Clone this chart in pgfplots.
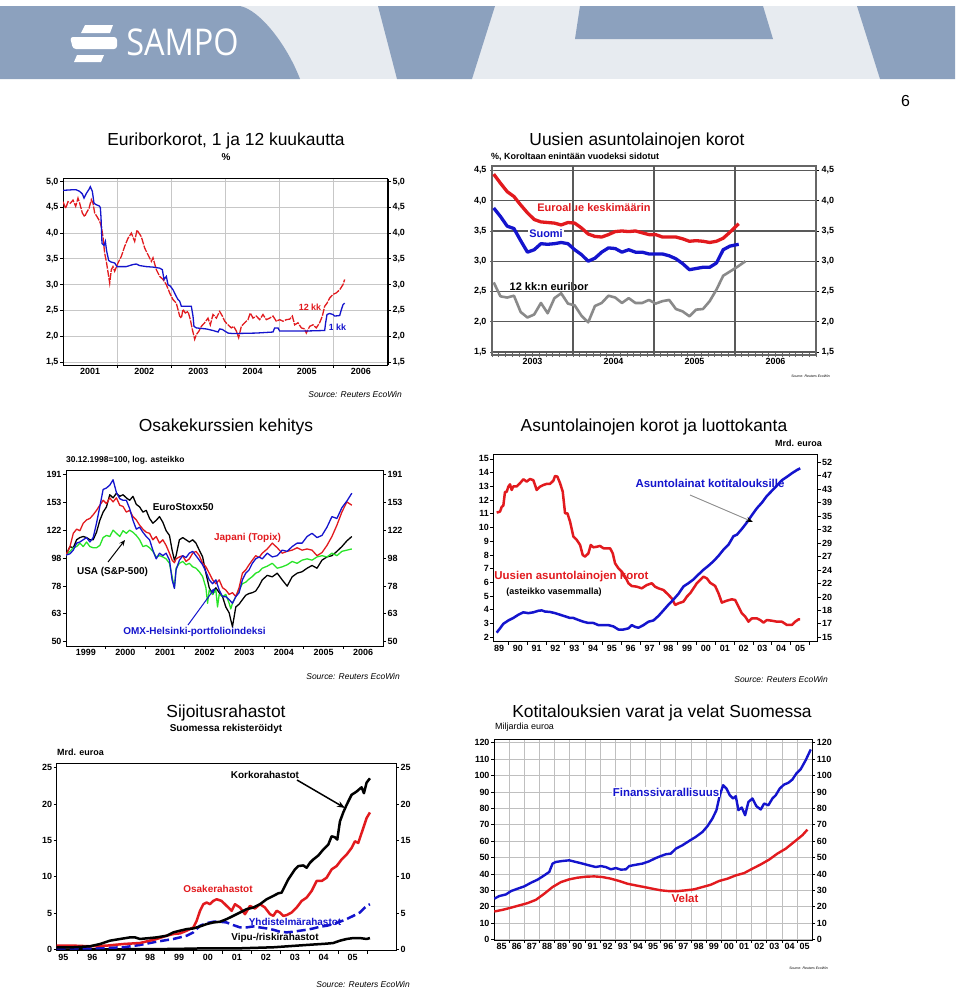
\documentclass[border=0pt]{standalone}
\usepackage{fontspec}
\setmainfont{Liberation Sans}
\newfontfamily\logofont{Open Sans}
\usepackage{pgfplots}
\pgfplotsset{compat=1.18}
\usetikzlibrary{arrows.meta}

\definecolor{cred}{RGB}{226,26,30}
\definecolor{cblue}{RGB}{20,20,205}
\definecolor{cgreen}{RGB}{40,228,40}
\definecolor{cgray}{RGB}{138,138,138}
\definecolor{bdark}{RGB}{140,161,190}
\definecolor{blight}{RGB}{231,235,240}

\newcommand{\tl}{\bfseries\fontsize{9}{10}\selectfont}
\newcommand{\ttl}{\fontsize{17.5}{19}\selectfont}
\newcommand{\lb}[1]{\bfseries\fontsize{#1}{#1}\selectfont}
\newcommand{\src}{\itshape\fontsize{8.5}{9}\selectfont}

\pgfplotsset{
  base/.style={scale only axis, anchor=north west,
    axis line style={line width=1bp},
    tick label style={font=\tl},
    /pgf/number format/assume math mode=true,
    major tick length=0pt, minor tick length=3bp, tick align=outside,
    every minor tick/.append style={black, line width=0.8bp},
    tick pos=left},
  onedec/.style={/pgf/number format/fixed, /pgf/number format/fixed zerofill,
    /pgf/number format/precision=1, /pgf/number format/use comma},
  twin/.style={base, hide x axis, axis y line*=right, ytick pos=right, yticklabel pos=right}
}

\begin{document}
\begin{tikzpicture}
\useasboundingbox (0,0) rectangle (960bp,-991bp);
\fill[white] (0,0) rectangle (960bp,-991bp);

\begin{scope}[x=1bp,y=-1bp]
% banner
\fill[blight] (0,6) rectangle (955,79);
\fill[bdark] (0,6) -- (240,6) .. controls (260,10) and (287,45) .. (300,79) -- (0,79) -- cycle;
\fill[bdark] (378,6) -- (495,6) -- (472,79) -- (397,79) -- cycle;
\fill[bdark] (580,6) -- (763,6) -- (773,39) -- (575,39) -- cycle;
\fill[bdark] (857,6) -- (955,6) -- (955,79) -- (880,79) -- cycle;
\fill[white] (85,25) -- (113,25) -- (110,33) -- (81,33) -- cycle;
\fill[white, rounded corners=3bp] (70,37) -- (117,37) -- (117,49) -- (73,49) -- cycle;
\fill[white] (77,55) -- (104,55) -- (101,62) -- (74,62) -- cycle;
\node[white, xscale=0.88, inner sep=0] at (182.5,42) {\logofont\fontsize{37}{37}\selectfont SAMPO};
\node at (905.5,101) {\fontsize{16}{16}\selectfont 6};

% titles
\node at (226,141) {\ttl Euriborkorot, 1 ja 12 kuukautta};
\node at (226,157) {\lb{10}\%};
\node at (637,141) {\ttl Uusien asuntolainojen korot};
\node[anchor=west, inner sep=0] at (491,157) {\lb{9}\%, Koroltaan enintään vuodeksi sidotut};
\node at (226,427) {\ttl Osakekurssien kehitys};
\node[anchor=west, inner sep=0] at (66,460) {\lb{8.5}30.12.1998=100, log. asteikko};
\node at (654,427) {\ttl Asuntolainojen korot ja luottokanta};
\node[anchor=east, inner sep=0] at (822,443) {\lb{9}Mrd. euroa};
\node at (226,713) {\ttl Sijoitusrahastot};
\node at (226,729) {\lb{10}Suomessa rekisteröidyt};
\node[anchor=west, inner sep=0] at (57,752) {\lb{9}Mrd. euroa};
\node at (662,713) {\ttl Kotitalouksien varat ja velat Suomessa};
\node[anchor=west, inner sep=0] at (495,727) {\fontsize{9}{9}\selectfont Miljardia euroa};

% sources
\node[anchor=east, inner sep=0] at (402,394) {\src Source: Reuters EcoWin};
\node[anchor=east, inner sep=0] at (400,676) {\src Source: Reuters EcoWin};
\node[anchor=east, inner sep=0] at (828,679) {\src Source: Reuters EcoWin};
\node[anchor=east, inner sep=0] at (410,984) {\src Source: Reuters EcoWin};
\node[anchor=east, inner sep=0] at (830,376) {\itshape\fontsize{3.5}{4}\selectfont Source: Reuters EcoWin};
\node[anchor=east, inner sep=0] at (828,968) {\itshape\fontsize{3.5}{4}\selectfont Source: Reuters EcoWin};

% in-chart labels (under the lines)
\node[cred] at (310,307) {\lb{9}12 kk};
\node[cblue] at (337.5,327) {\lb{9}1 kk};
\node[cred] at (594,208) {\lb{11}Euroalue keskimäärin};
\node at (549,287) {\lb{11}12 kk:n euribor};
\node at (183.3,506.7) {\lb{10}EuroStoxx50};
\node[cred] at (247.5,538) {\lb{10}Japani (Topix)};
\node at (112.5,571.7) {\lb{10}USA (S\&P-500)};
\node[cblue] at (194.5,631.7) {\lb{10}OMX-Helsinki-portfolioindeksi};
\node[cblue] at (710,483) {\lb{11.5}Asuntolainat kotitalouksille};
\node[cred] at (571.5,577) {\lb{11.5}Uusien asuntolainojen korot};
\node at (554,592) {\lb{9}(asteikko vasemmalla)};
\node at (265,775) {\lb{10}Korkorahastot};
\node[cred] at (218,889) {\lb{10}Osakerahastot};
\node[cblue] at (295,922) {\lb{10}Yhdistelmärahastot};
\node at (275,938) {\lb{10}Vipu-/riskirahastot};
\end{scope}

%================ P1 Euribor
\begin{axis}[base, at={(63bp,-178.5bp)}, width=325bp, height=186.5bp,
  xmin=0, xmax=6, ymin=1.44, ymax=5.06,
  xtick={0.5,1.5,2.5,3.5,4.5,5.5}, xticklabels={2001,2002,2003,2004,2005,2006},
  minor xtick={1,2,3,4,5}, xminorgrids=true,
  ytick={1.5,2,2.5,3,3.5,4,4.5,5}, minor ytick={1.5,2,2.5,3,3.5,4,4.5,5},
  ymajorgrids=true, grid style={black!22, line width=0.8bp},
  yticklabel style={xshift=-1bp, onedec}]
\addplot[cred, line width=1.3bp, dash pattern=on 7bp off 1.2bp] coordinates {
(0.000,4.61)(0.049,4.48)(0.092,4.61)(0.135,4.58)(0.185,4.64)(0.234,4.52)(0.277,4.68)(0.308,4.58)
(0.357,4.39)(0.400,4.32)(0.431,4.39)(0.480,4.48)(0.523,4.65)(0.554,4.58)(0.585,4.39)(0.628,4.32)
(0.677,4.23)(0.708,4.13)(0.738,3.93)(0.769,3.61)(0.800,3.45)(0.843,3.16)(0.862,3.03)(0.892,3.29)
(0.923,3.35)(0.954,3.26)(1.015,3.42)(1.077,3.55)(1.138,3.74)(1.200,3.90)(1.262,4.00)(1.323,3.84)
(1.366,4.06)(1.403,4.00)(1.446,3.93)(1.508,3.71)(1.569,3.58)(1.631,3.45)(1.662,3.52)(1.723,3.29)
(1.785,3.16)(1.846,3.10)(1.908,3.00)(1.969,2.84)(2.031,2.71)(2.092,2.64)(2.154,2.39)(2.185,2.35)
(2.215,2.52)(2.258,2.45)(2.308,2.48)(2.351,2.32)(2.388,2.13)(2.431,1.94)(2.462,2.03)(2.511,2.10)
(2.554,2.19)(2.615,2.26)(2.677,2.35)(2.720,2.22)(2.769,2.42)(2.831,2.35)(2.892,2.48)(2.942,2.39)
(2.985,2.29)(3.046,2.22)(3.108,2.16)(3.151,2.19)(3.200,2.10)(3.243,1.97)(3.292,2.19)(3.354,2.26)
(3.415,2.32)(3.458,2.45)(3.508,2.35)(3.569,2.39)(3.631,2.32)(3.692,2.42)(3.754,2.32)(3.815,2.35)
(3.877,2.39)(3.938,2.29)(4.000,2.32)(4.062,2.29)(4.123,2.32)(4.185,2.33)(4.234,2.39)(4.277,2.22)
(4.338,2.26)(4.400,2.16)(4.462,2.14)(4.492,2.06)(4.554,2.19)(4.615,2.22)(4.677,2.16)(4.738,2.26)
(4.788,2.39)(4.831,2.58)(4.874,2.64)(4.923,2.74)(4.985,2.81)(5.046,2.84)(5.108,2.90)(5.169,3.00)
(5.200,3.10)};
\addplot[cblue, line width=1.3bp] coordinates {
(0.000,4.83)(0.154,4.84)(0.246,4.84)(0.308,4.81)(0.357,4.76)(0.388,4.68)(0.431,4.77)(0.480,4.85)
(0.505,4.90)(0.542,4.81)(0.572,4.58)(0.615,4.55)(0.665,4.53)(0.689,4.50)(0.702,4.30)(0.720,3.80)
(0.757,3.76)(0.782,3.84)(0.806,3.65)(0.843,3.47)(0.886,3.44)(0.954,3.42)(0.997,3.35)(1.169,3.35)
(1.231,3.37)(1.292,3.39)(1.354,3.40)(1.415,3.37)(1.538,3.35)(1.662,3.34)(1.785,3.32)(1.834,3.29)
(1.865,3.10)(1.908,3.16)(1.938,3.00)(1.982,2.97)(2.031,2.90)(2.092,2.77)(2.123,2.71)(2.154,2.68)
(2.185,2.58)(2.369,2.58)(2.400,2.39)(2.418,2.19)(2.462,2.16)(2.554,2.15)(2.646,2.14)(2.769,2.11)
(2.862,2.08)(2.892,2.14)(2.942,2.13)(2.985,2.10)(3.046,2.06)(3.138,2.05)(3.569,2.06)(3.877,2.08)
(3.908,2.16)(3.969,2.16)(4.000,2.10)(4.492,2.10)(4.831,2.11)(4.849,2.26)(4.874,2.42)(4.923,2.44)
(4.985,2.42)(5.015,2.39)(5.108,2.40)(5.138,2.51)(5.169,2.61)(5.200,2.64)};
\end{axis}
\begin{axis}[twin, at={(63bp,-178.5bp)}, width=325bp, height=186.5bp,
  xmin=0, xmax=6, ymin=1.44, ymax=5.06,
  ytick={1.5,2,2.5,3,3.5,4,4.5,5}, minor ytick={1.5,2,2.5,3,3.5,4,4.5,5},
  yticklabel style={xshift=1bp, onedec}]
\end{axis}

%================ P2 Uusien asuntolainojen korot
\begin{axis}[base, at={(492bp,-166bp)}, width=324bp, height=189bp,
  axis line style={black!60, line width=1.2bp},
  xmin=-0.25, xmax=47.75, ymin=1.45, ymax=4.574,
  xtick={5.75,17.75,29.75,41.75}, xticklabels={2003,2004,2005,2006},
  minor xtick={-0.25,0.75,...,47.75}, tick align=center, minor tick length=4bp,
  every minor tick/.append style={black!60, line width=0.8bp},
  extra x ticks={11.75,23.75,35.75}, extra x tick labels={},
  extra x tick style={grid=major},
  ytick={1.5,2,2.5,3,3.5,4,4.5}, minor ytick={1.5,2,2.5,3,3.5,4,4.5},
  ymajorgrids=true, major grid style={black!65, line width=1.1bp},
  yticklabel style={xshift=-2bp, onedec}]
\addplot[cgray, line width=2.6bp, line join=round] coordinates {
(0,2.65)(1,2.42)(2,2.40)(3,2.43)(4,2.16)(5,2.07)(6,2.12)(7,2.31)(8,2.14)(9,2.39)(10,2.47)(11,2.30)
(12,2.27)(13,2.10)(14,1.99)(15,2.26)(16,2.31)(17,2.43)(18,2.40)(19,2.31)(20,2.39)(21,2.31)(22,2.31)(23,2.36)
(24,2.30)(25,2.34)(26,2.36)(27,2.21)(28,2.17)(29,2.09)(30,2.20)(31,2.21)(32,2.34)(33,2.53)(34,2.76)(35,2.83)
(36,2.90)(37.3,3.00)};
\addplot[cred, line width=3.3bp, line join=round] coordinates {
(0,4.44)(1,4.29)(2,4.15)(3,4.07)(4,3.93)(5,3.80)(6,3.69)(7,3.65)(8,3.64)(9,3.63)(10,3.60)(11,3.64)
(12,3.63)(13,3.55)(14,3.45)(15,3.41)(16,3.40)(17,3.44)(18,3.49)(19,3.50)(20,3.49)(21,3.50)(22,3.47)(23,3.44)
(24,3.44)(25,3.40)(26,3.40)(27,3.40)(28,3.37)(29,3.33)(30,3.34)(31,3.33)(32,3.31)(33,3.33)(34,3.38)(35,3.48)
(36.3,3.62)};
\addplot[cblue, line width=3.3bp, line join=round] coordinates {
(0,3.88)(1,3.74)(2,3.58)(3,3.54)(4,3.34)(5,3.15)(6,3.19)(7,3.29)(8,3.28)(9,3.29)(10,3.31)(11,3.29)
(12,3.19)(13,3.11)(14,3.00)(15,3.05)(16,3.15)(17,3.22)(18,3.21)(19,3.15)(20,3.19)(21,3.15)(22,3.15)(23,3.12)
(24,3.12)(25,3.12)(26,3.09)(27,3.04)(28,2.96)(29,2.86)(30,2.88)(31,2.90)(32,2.90)(33,2.97)(34,3.19)(35,3.25)
(36.3,3.28)};
\end{axis}
\begin{axis}[twin, at={(492bp,-166bp)}, width=324bp, height=189bp,
  axis line style={black!60, line width=1.2bp},
  xmin=-0.25, xmax=47.75, ymin=1.45, ymax=4.574,
  ytick={1.5,2,2.5,3,3.5,4,4.5}, minor ytick={1.5,2,2.5,3,3.5,4,4.5},
  yticklabel style={xshift=2bp, onedec}]
\end{axis}

%================ P3 Osakekurssien kehitys
\begin{axis}[base, at={(66bp,-470bp)}, width=317bp, height=176bp,
  ymode=log, xmin=0, xmax=8, ymin=48.3, ymax=197.5,
  xtick={0.5,1.5,2.5,3.5,4.5,5.5,6.5,7.5},
  xticklabels={1999,2000,2001,2002,2003,2004,2005,2006},
  minor xtick={1,2,3,4,5,6,7},
  ytick={50,62.5,78.125,97.65625,122.0703,152.5879,190.7349},
  yticklabels={50,63,78,98,122,153,191},
  minor ytick={50,62.5,78.125,97.65625,122.0703,152.5879,190.7349},
  yticklabel style={xshift=-1bp},
  every axis plot/.append style={line width=1.3bp, line join=round}]
\addplot[black] coordinates {
(0.000,100)(0.100,107)(0.184,106)(0.268,113)(0.351,115)(0.435,116)(0.519,115)(0.603,113)(0.686,113)
(0.770,120)(0.854,132)(0.937,141)(1.021,147)(1.105,162)(1.188,158)(1.272,164)(1.356,160)(1.439,162)
(1.523,158)(1.607,155)(1.690,160)(1.774,150)(1.858,147)(1.941,141)(2.025,143)(2.109,134)(2.192,129)
(2.276,132)(2.360,136)(2.444,130)(2.527,121.5)(2.611,117)(2.678,104)(2.736,96)(2.778,99.5)(2.862,113)
(2.946,115)(3.029,113)(3.113,111)(3.197,113)(3.280,110)(3.364,104)(3.448,98.5)(3.531,86.5)(3.615,77)
(3.699,73)(3.782,77)(3.866,74)(3.950,71.7)(4.033,66)(4.117,63)(4.159,59.5)(4.201,56.4)(4.285,66)
(4.368,67.5)(4.452,70)(4.536,72.5)(4.619,73.5)(4.703,74)(4.787,75)(4.870,78)(4.954,82)(5.079,85)
(5.205,84)(5.331,86.5)(5.456,82)(5.582,78)(5.707,84)(5.833,86.5)(5.958,87.5)(6.084,90)(6.209,92)
(6.335,90)(6.460,96)(6.586,98.5)(6.711,99.5)(6.837,103)(6.962,107)(7.088,112)(7.213,116)};
\addplot[cgreen] coordinates {
(0.000,100)(0.100,103)(0.184,106)(0.268,107)(0.351,110)(0.435,107)(0.519,111)(0.603,107)(0.686,106)
(0.770,106)(0.854,108)(0.937,115)(1.021,117)(1.105,116)(1.188,122)(1.272,119)(1.356,116)(1.439,121.5)
(1.523,119)(1.607,122)(1.690,120)(1.774,117)(1.858,113)(1.941,107)(2.025,108)(2.109,106)(2.192,103)
(2.276,98.5)(2.360,99.5)(2.444,98.5)(2.527,97)(2.611,93.6)(2.678,84.2)(2.736,77)(2.778,90)(2.862,93.6)
(2.946,95)(3.029,92.5)(3.113,93.6)(3.197,91)(3.280,90)(3.364,87.5)(3.448,84.2)(3.531,77)(3.573,68)
(3.615,75.6)(3.699,73)(3.782,75.6)(3.824,66)(3.866,73)(3.950,71.7)(4.033,73)(4.117,68)(4.159,65)
(4.201,68)(4.285,71.7)(4.368,75.6)(4.452,79.5)(4.536,80.5)(4.619,82.5)(4.703,84.2)(4.787,86.5)
(4.870,87.5)(4.954,90)(5.079,91.5)(5.205,93.6)(5.331,90)(5.456,91)(5.582,92.5)(5.707,95)(5.833,93.6)
(5.958,96)(6.084,97)(6.209,96)(6.335,98.5)(6.460,99.5)(6.586,98.5)(6.711,101.5)(6.837,99.5)(6.962,103)
(7.088,104)(7.213,105)};
\addplot[cred] coordinates {
(0.000,100)(0.100,107)(0.184,119)(0.268,123)(0.351,121.5)(0.435,129)(0.519,132.5)(0.603,134)(0.686,138)
(0.770,143)(0.854,149)(0.937,155)(1.021,151)(1.105,158)(1.188,153)(1.272,158)(1.356,149)(1.439,147.5)
(1.523,141)(1.607,143)(1.690,136)(1.774,132.5)(1.858,127)(1.941,123)(2.025,120)(2.109,119)(2.192,113)
(2.276,116)(2.360,110)(2.444,113)(2.527,108)(2.611,101.5)(2.678,96)(2.736,94)(2.778,97)(2.862,98.5)
(2.946,99.5)(3.029,95)(3.113,97)(3.197,101.5)(3.280,103)(3.364,99.5)(3.448,93.6)(3.531,91)(3.615,86.5)
(3.699,82)(3.782,79.5)(3.866,82)(3.950,77)(4.033,75.6)(4.117,73)(4.159,73.5)(4.201,74)(4.285,71.7)
(4.368,77)(4.452,86.5)(4.536,88.8)(4.619,92.5)(4.703,96)(4.787,99.5)(4.870,98)(4.954,101.5)(5.079,105)
(5.205,110)(5.331,106)(5.456,101.5)(5.582,103)(5.707,104)(5.833,106)(5.958,104)(6.084,105)(6.209,104)
(6.335,99.5)(6.460,102)(6.586,108)(6.711,116)(6.837,127)(6.962,141)(7.088,153)(7.213,149)};
\addplot[cblue] coordinates {
(0.000,100)(0.100,101)(0.184,104)(0.268,110)(0.351,111)(0.435,113)(0.519,115)(0.603,111)(0.686,115)
(0.770,129)(0.854,147.5)(0.937,169)(1.021,171)(1.105,175)(1.188,182.6)(1.272,165)(1.356,157)(1.439,155)
(1.523,155)(1.607,145)(1.690,132)(1.774,123)(1.858,125)(1.941,120)(2.025,116)(2.109,113)(2.192,104)
(2.276,97)(2.360,101.5)(2.444,99.5)(2.527,101.5)(2.611,96)(2.678,82)(2.736,76.6)(2.778,88.8)(2.862,96)
(2.946,99.5)(3.029,98)(3.113,101.5)(3.197,103)(3.280,99.5)(3.364,96)(3.448,92.5)(3.531,87.5)(3.615,82)
(3.699,79.5)(3.782,82)(3.866,75.6)(3.950,71.7)(4.033,71.7)(4.117,70)(4.159,69)(4.201,68)(4.285,71.7)
(4.368,74)(4.452,82)(4.536,86.5)(4.619,88.8)(4.703,93.6)(4.787,97)(4.870,98.5)(4.954,97)(5.079,101.5)
(5.205,98.5)(5.331,99.5)(5.456,104)(5.582,103)(5.707,107)(5.833,110)(5.958,110)(6.084,116)(6.209,119)
(6.335,115)(6.460,117)(6.586,125)(6.711,136)(6.837,134)(6.962,146)(7.088,154)(7.213,164)};
\end{axis}
\begin{axis}[twin, at={(66bp,-470bp)}, width=317bp, height=176bp,
  ymode=log, xmin=0, xmax=8, ymin=48.3, ymax=197.5,
  ytick={50,62.5,78.125,97.65625,122.0703,152.5879,190.7349},
  yticklabels={50,63,78,98,122,153,191},
  minor ytick={50,62.5,78.125,97.65625,122.0703,152.5879,190.7349},
  yticklabel style={xshift=1bp}]
\end{axis}

%================ P4 Asuntolainojen korot ja luottokanta
\begin{axis}[base, at={(493.3bp,-454bp)}, width=324.4bp, height=187.7bp,
  xmin=-0.303, xmax=16.94, ymin=1.68, ymax=15.36,
  xtick={0,...,16}, xticklabels={89,90,91,92,93,94,95,96,97,98,99,00,01,02,03,04,05},
  minor xtick={0.5,1.5,...,16.5},
  ytick={2,...,15}, minor ytick={2,...,15},
  yticklabel style={xshift=-1bp}]
\addplot[cred, line width=2.5bp, line join=round] coordinates {
(-0.124,11.09)(0.053,11.16)(0.142,11.5)(0.230,11.6)(0.319,12.6)(0.408,12.6)(0.496,12.98)(0.585,13.15)
(0.674,12.74)(0.762,13.0)(0.940,13.0)(1.117,13.23)(1.294,13.52)(1.472,13.35)(1.649,13.54)(1.826,13.45)
(2.004,12.74)(2.181,12.98)(2.358,13.1)(2.535,13.18)(2.713,13.18)(2.890,13.42)(2.979,13.76)(3.103,13.71)
(3.245,13.23)(3.387,12.62)(3.511,11.04)(3.635,11.04)(3.777,10.43)(3.954,9.34)(4.131,9.1)(4.309,8.73)
(4.450,8.0)(4.574,7.88)(4.752,8.12)(4.876,8.73)(5.018,8.56)(5.195,8.6)(5.372,8.66)(5.550,8.49)
(5.727,8.49)(5.904,8.49)(6.046,8.12)(6.170,7.39)(6.348,7.03)(6.525,6.79)(6.702,6.42)(6.879,5.94)
(7.057,5.74)(7.323,5.69)(7.589,5.57)(7.855,5.81)(8.121,5.94)(8.298,5.69)(8.475,5.57)(8.741,5.45)
(9.007,5.09)(9.184,4.84)(9.362,4.36)(9.539,4.48)(9.805,4.6)(9.982,4.96)(10.160,5.21)(10.337,5.57)
(10.514,5.94)(10.691,6.18)(10.869,6.42)(11.046,6.3)(11.223,5.98)(11.489,5.74)(11.667,5.21)(11.844,4.53)
(12.110,4.67)(12.376,4.77)(12.553,4.72)(12.730,4.23)(12.908,3.75)(13.085,3.51)(13.262,3.14)(13.440,3.38)
(13.706,3.38)(13.883,3.26)(14.060,3.07)(14.238,3.26)(14.504,3.21)(14.770,3.14)(15.035,3.14)(15.301,2.9)
(15.567,2.9)(15.745,3.14)(15.922,3.31)(16.011,3.31)};
\end{axis}
\begin{axis}[twin, at={(493.3bp,-454bp)}, width=324.4bp, height=187.7bp,
  ymode=log, xmin=-0.303, xmax=16.94, ymin=14.54, ymax=54.9,
  ytick={15,16.5,18.15,19.965,21.96,24.16,26.57,29.23,32.15,35.37,38.91,42.80,47.08,51.79},
  yticklabels={15,17,18,20,22,24,27,29,32,35,39,43,47,52},
  minor ytick={15,16.5,18.15,19.965,21.96,24.16,26.57,29.23,32.15,35.37,38.91,42.80,47.08,51.79},
  yticklabel style={xshift=1bp}]
\addplot[cblue, line width=2.5bp, line join=round] coordinates {
(-0.124,15.5)(0.053,15.98)(0.230,16.5)(0.496,16.9)(0.762,17.2)(1.028,17.6)(1.294,17.9)(1.560,17.8)
(1.826,17.9)(2.092,18.1)(2.270,18.15)(2.447,18.0)(2.713,17.95)(2.979,17.8)(3.245,17.6)(3.511,17.4)
(3.777,17.2)(3.954,17.2)(4.220,16.96)(4.486,16.75)(4.752,16.6)(5.018,16.6)(5.284,16.35)(5.550,16.35)
(5.816,16.35)(6.082,16.2)(6.348,15.85)(6.613,15.85)(6.879,15.98)(7.057,16.35)(7.234,16.15)(7.411,16.05)
(7.677,16.35)(7.943,16.75)(8.209,16.9)(8.475,17.45)(8.741,18.15)(9.007,18.9)(9.273,19.6)(9.539,20.4)
(9.805,21.5)(10.071,22.0)(10.337,22.6)(10.603,23.4)(10.869,24.2)(11.135,24.9)(11.401,25.7)(11.667,26.7)
(11.933,27.9)(12.199,28.9)(12.465,30.7)(12.642,31.0)(12.908,32.3)(13.174,33.8)(13.440,35.6)(13.706,37.4)
(13.972,38.9)(14.238,40.8)(14.504,42.3)(14.770,43.9)(15.035,45.6)(15.301,46.7)(15.567,47.9)(15.833,49.0)
(16.011,49.6)};
\end{axis}

%================ P5 Sijoitusrahastot
\begin{axis}[base, at={(56.7bp,-763.3bp)}, width=339.3bp, height=187.4bp,
  xmin=94.77, xmax=106.5, ymin=-0.15, ymax=25.6,
  xtick={95,...,105}, xticklabels={95,96,97,98,99,00,01,02,03,04,05},
  minor xtick={95.5,96.5,...,105.5},
  ytick={0,5,...,25}, minor ytick={0,5,...,25},
  yticklabel style={xshift=-1bp},
  every axis plot/.append style={line width=2.5bp, line join=round}]
\addplot[black] coordinates {
(94.770,0)(98.802,0.09)(99.954,0.18)(101.106,0.18)(102.258,0.32)(103.410,0.64)(104.101,0.82)(104.332,0.91)
(104.562,1.23)(104.793,1.46)(105.023,1.59)(105.253,1.59)(105.484,1.46)(105.599,1.59)};
\addplot[cblue, dash pattern=on 9bp off 4bp] coordinates {
(94.770,0.18)(95.922,0.18)(97.074,0.32)(97.650,0.64)(98.226,1.09)(98.802,1.46)(99.263,1.91)(99.493,2.37)
(99.724,3.28)(99.954,3.64)(100.184,3.83)(100.415,3.83)(100.645,3.73)(100.876,3.37)(101.106,3.05)(101.336,3.05)
(101.567,3.19)(101.797,3.05)(102.028,2.91)(102.258,2.73)(102.488,2.46)(102.719,2.37)(102.949,2.46)(103.180,2.6)
(103.410,2.73)(103.641,2.91)(103.871,3.14)(104.101,3.28)(104.332,3.51)(104.562,3.83)(104.793,4.19)(105.023,4.64)
(105.253,5.1)(105.484,6.01)(105.599,6.24)};
\addplot[cred] coordinates {
(94.770,0.55)(95.346,0.55)(95.922,0.46)(96.498,0.55)(97.074,0.77)(97.650,0.91)(98.226,1.46)(98.571,1.91)
(98.802,2.14)(99.032,2.23)(99.263,2.6)(99.493,3.05)(99.608,3.96)(99.724,5.33)(99.839,6.24)(99.954,6.47)
(100.069,6.24)(100.184,6.69)(100.300,6.92)(100.472,6.69)(100.645,6.01)(100.818,5.33)(100.933,6.24)(101.106,5.78)
(101.279,4.87)(101.452,6.01)(101.624,5.65)(101.797,6.24)(101.970,5.78)(102.143,4.87)(102.258,4.64)(102.373,5.33)
(102.488,5.1)(102.604,4.64)(102.719,4.74)(102.892,5.1)(103.065,5.78)(103.237,6.69)(103.410,7.15)(103.583,8.06)
(103.756,9.43)(103.929,9.43)(104.101,9.88)(104.274,11.02)(104.447,11.48)(104.620,12.39)(104.793,13.07)(104.965,13.98)
(105.081,14.89)(105.196,14.66)(105.311,16.03)(105.484,18.08)(105.599,18.85)};
\addplot[black] coordinates {
(94.770,0.32)(95.346,0.32)(95.922,0.46)(96.267,0.77)(96.613,1.23)(96.958,1.46)(97.304,1.68)(97.477,1.68)
(97.650,1.46)(97.880,1.55)(98.226,1.68)(98.571,1.91)(98.802,2.37)(99.032,2.6)(99.263,2.82)(99.493,2.91)
(99.724,3.19)(99.954,3.51)(100.184,3.73)(100.415,3.83)(100.645,4.19)(100.876,4.64)(101.106,5.1)(101.336,5.56)
(101.567,5.78)(101.797,6.24)(102.028,6.92)(102.258,7.38)(102.431,7.74)(102.546,7.83)(102.661,8.74)(102.776,9.65)
(102.892,10.34)(103.007,11.02)(103.122,11.48)(103.295,11.57)(103.410,11.25)(103.525,11.93)(103.641,12.39)(103.813,12.93)
(103.986,13.75)(104.159,14.44)(104.274,15.57)(104.389,15.44)(104.470,15.12)(104.562,17.62)(104.677,18.85)(104.793,19.9)
(104.965,21.27)(105.138,21.72)(105.311,22.31)(105.392,21.49)(105.484,22.95)(105.599,23.54)};
\end{axis}
\begin{axis}[twin, at={(56.7bp,-763.3bp)}, width=339.3bp, height=187.4bp,
  xmin=94.77, xmax=106.5, ymin=-0.15, ymax=25.6,
  ytick={0,5,...,25}, minor ytick={0,5,...,25},
  yticklabel style={xshift=1bp}]
\end{axis}

%================ P6 Kotitalouksien varat ja velat
\begin{axis}[base, at={(494bp,-739.3bp)}, width=318.3bp, height=200.7bp,
  xmin=84.5, xmax=105.5, ymin=-0.3, ymax=122.1,
  xtick={85,...,105},
  xticklabels={85,86,87,88,89,90,91,92,93,94,95,96,97,98,99,00,01,02,03,04,05},
  minor xtick={85.5,86.5,...,104.5}, xminorgrids=true,
  ytick={0,10,...,120}, minor ytick={0,10,...,120}, ymajorgrids=true,
  grid style={black!25, line width=0.8bp},
  yticklabel style={xshift=-1bp},
  every axis plot/.append style={line width=2.4bp, line join=round}]
\addplot[cred] coordinates {
(84.516,17.1)(85.066,18.1)(85.615,19.4)(86.165,20.8)(86.714,22.2)(87.264,24.2)(87.813,27.9)(88.363,32.0)
(88.912,35.0)(89.462,36.7)(90.011,37.7)(90.560,38.3)(91.110,38.5)(91.659,38.1)(92.209,37.1)(92.758,35.7)
(93.308,34.0)(93.857,33.0)(94.407,32.0)(94.956,31.0)(95.505,30.0)(96.055,29.5)(96.604,29.5)(97.154,30.0)
(97.703,30.6)(98.253,32.0)(98.802,33.4)(99.352,35.7)(99.901,37.1)(100.451,39.1)(101.000,40.5)(101.549,43.2)
(102.099,45.8)(102.648,48.7)(103.198,52.4)(103.747,55.4)(104.297,59.5)(104.846,63.6)(105.176,67.0)};
\addplot[cblue] coordinates {
(84.516,24.9)(84.846,26.5)(85.286,27.5)(85.615,29.5)(86.055,31.0)(86.495,32.4)(86.934,34.6)(87.374,36.5)
(87.813,39.1)(88.143,41.2)(88.363,46.3)(88.582,47.3)(89.022,47.9)(89.462,48.3)(89.901,47.3)(90.341,46.3)
(90.780,45.2)(91.220,44.2)(91.549,44.8)(91.879,44.2)(92.209,42.8)(92.538,43.6)(92.868,42.6)(93.198,42.8)
(93.418,44.8)(93.857,45.6)(94.297,46.3)(94.736,47.7)(95.176,49.7)(95.505,50.9)(95.835,52.0)(96.165,52.4)
(96.495,55.4)(96.934,57.5)(97.374,60.1)(97.813,62.6)(98.253,65.6)(98.582,69.1)(98.912,73.8)(99.176,78.9)
(99.396,88.0)(99.615,94.1)(99.835,92.1)(100.055,88.0)(100.275,86.0)(100.451,87.4)(100.626,78.9)(100.846,80.5)
(101.066,75.8)(101.286,83.9)(101.549,86.0)(101.813,81.3)(102.099,79.3)(102.319,82.9)(102.604,81.9)(102.868,86.0)
(103.088,88.0)(103.352,92.1)(103.637,94.5)(103.923,95.6)(104.187,97.6)(104.451,101.3)(104.736,103.9)(105.066,109.4)
(105.396,115.9)};
\end{axis}
\begin{axis}[twin, at={(494bp,-739.3bp)}, width=318.3bp, height=200.7bp,
  xmin=84.5, xmax=105.5, ymin=-0.3, ymax=122.1,
  ytick={0,10,...,120}, minor ytick={0,10,...,120},
  yticklabel style={xshift=1bp}]
\end{axis}

% labels over the lines, and arrows
\begin{scope}[x=1bp,y=-1bp]
\node[cblue, fill=white, inner sep=1bp] at (546,234) {\lb{11}Suomi};
\node[cblue, fill=white, inner sep=1bp] at (666,792) {\lb{11.5}Finanssivarallisuus};
\node[cred, fill=white, inner sep=1bp] at (685,898) {\lb{11.5}Velat};
\draw[black, line width=1bp, -{Stealth[length=6bp,width=5bp]}] (108,562) -- (125,540);
\draw[cblue, line width=1bp, -{Stealth[length=6bp,width=5bp]}] (188,625) -- (215,588);
\draw[cgray, line width=0.9bp, -{Stealth[length=7bp,width=5bp,color=black]}] (690,495) -- (753,522);
\draw[black, line width=1.5bp, -{Stealth[length=8bp,width=6bp]}] (297,780) -- (345,808);
\end{scope}
\end{tikzpicture}
\end{document}
